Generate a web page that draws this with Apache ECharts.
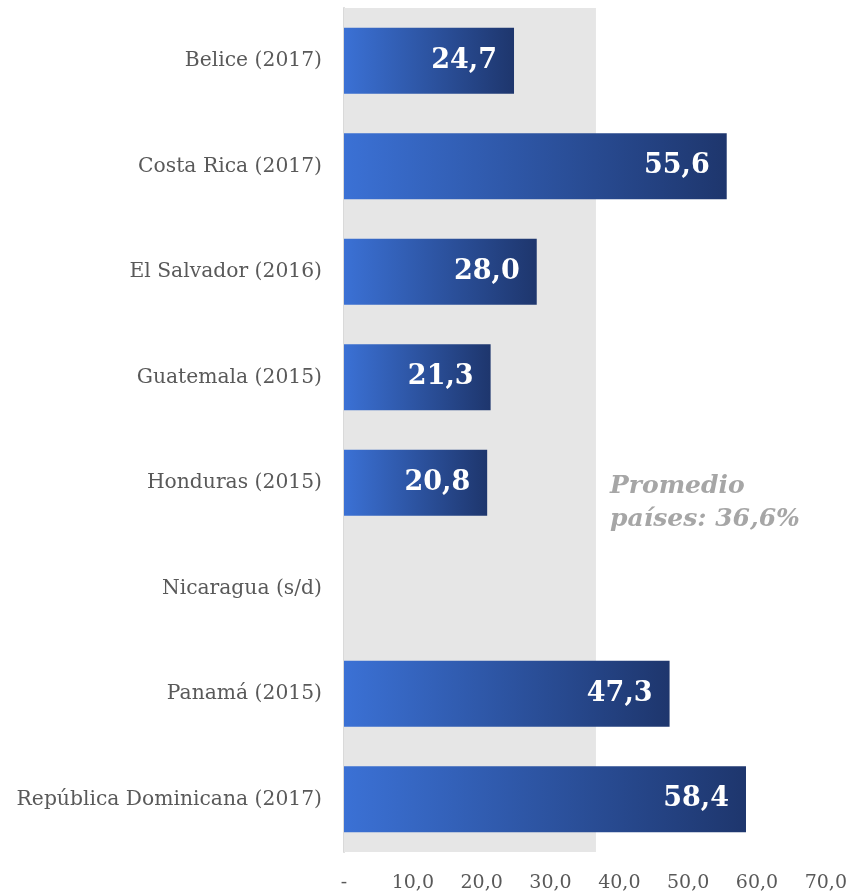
<!DOCTYPE html>
<html>
<head>
<meta charset="utf-8">
<script src="https://cdn.jsdelivr.net/npm/echarts@6/dist/echarts.min.js"></script>
<style>
  html, body { margin: 0; padding: 0; background: #fff; }
  #chart { width: 850px; height: 895px; }
</style>
</head>
<body>
<div id="chart"></div>
<script>
// datos
const categories = [
  'Belice (2017)',
  'Costa Rica (2017)',
  'El Salvador (2016)',
  'Guatemala (2015)',
  'Honduras (2015)',
  'Nicaragua (s/d)',
  'Panamá (2015)',
  'República Dominicana (2017)',
]
const values = [24.7, 55.6, 28.0, 21.3, 20.8, null, 47.3, 58.4]
const promedio = 36.6
const tickLabels = ['-', '10,0', '20,0', '30,0', '40,0', '50,0', '60,0', '70,0']

const fontFam = '"DejaVu Serif", serif'
const myChart = echarts.init(document.getElementById('chart'))

const fmt = (v) => v.toFixed(1).replace('.', ',')

const options = {
  animation: false,
  grid: { left: 344, right: 23, top: 8, bottom: 43 },
  xAxis: {
    type: 'value',
    min: 0,
    max: 70,
    interval: 10,
    axisLine: { show: false },
    axisTick: { show: false },
    splitLine: { show: false },
    axisLabel: {
      color: '#595959',
      fontFamily: fontFam,
      fontSize: 19,
      margin: 22,
      formatter: (v) => tickLabels[Math.round(v / 10)],
    },
  },
  yAxis: {
    type: 'category',
    inverse: true,
    data: categories,
    axisLine: { show: true, lineStyle: { color: '#d9d9d9', width: 2 } },
    axisTick: { show: false },
    axisLabel: {
      color: '#595959',
      fontFamily: fontFam,
      fontSize: 20.3,
      margin: 22,
    },
  },
  graphic: [
    {
      type: 'text',
      left: 610,
      top: 470,
      style: {
        text: 'Promedio\npaíses: ' + fmt(promedio) + '%',
        fill: '#a6a6a6',
        font: 'italic bold 25px ' + fontFam,
        lineHeight: 33,
      },
    },
  ],
  series: [
    {
      type: 'bar',
      data: values,
      barWidth: 66,
      itemStyle: {
        color: {
          type: 'linear',
          x: 0,
          y: 0,
          x2: 1,
          y2: 0,
          colorStops: [
            { offset: 0, color: '#3b71d5' },
            { offset: 1, color: '#1e366d' },
          ],
        },
      },
      label: {
        show: true,
        position: 'insideRight',
        distance: 17,
        color: '#fff',
        fontFamily: fontFam,
        fontWeight: 'bold',
        fontSize: 27,
        formatter: (p) => fmt(p.value),
      },
      markArea: {
        silent: true,
        itemStyle: { color: '#e6e6e6' },
        data: [[{ xAxis: 0 }, { xAxis: promedio }]],
      },
      z: 3,
    },
  ],
}
myChart.setOption(options)
</script>
</body>
</html>
